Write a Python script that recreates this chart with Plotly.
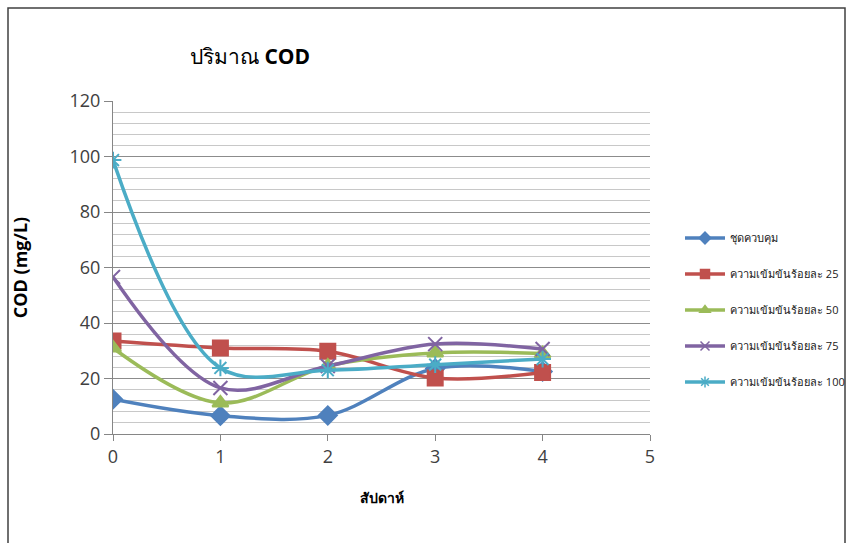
import plotly.graph_objects as go

weeks = [0, 1, 2, 3, 4]
series_names = ["ชุดควบคุม", "ความเข้มข้นร้อยละ 25", "ความเข้มข้นร้อยละ 50",
                "ความเข้มข้นร้อยละ 75", "ความเข้มข้นร้อยละ 100"]
control = [12.5, 6.6, 6.7, 23.6, 22.5]
c25 = [33.5, 31.0, 29.8, 20.2, 22.2]
c50 = [31.0, 11.2, 24.5, 29.2, 29.0]
c75 = [56.6, 16.6, 24.5, 32.4, 30.6]
c100 = [98.7, 23.8, 23.0, 25.0, 27.0]
y_ticks = [0, 20, 40, 60, 80, 100, 120]
x_ticks = [0, 1, 2, 3, 4, 5]

colors = ["#4F81BD", "#C0504D", "#9BBB59", "#8064A2", "#4BACC6"]
symbols = ["diamond", "square", "triangle-up", "x-thin-open", "asterisk-open"]
sizes = [14, 15, 14, 14, 14]
all_series = [control, c25, c50, c75, c100]

fig = go.Figure()
for i, (name, ys) in enumerate(zip(series_names, all_series)):
    fig.add_trace(go.Scatter(
        x=weeks, y=ys, name=name, mode="lines+markers",
        line=dict(color=colors[i], width=3.5, shape="spline", smoothing=1.0),
        marker=dict(symbol=symbols[i], size=sizes[i], color=colors[i],
                    line=dict(color=colors[i], width=2)),
        legendgroup=f"g{i}", showlegend=False,
    ))
    # legend entry with smaller marker, like the original
    fig.add_trace(go.Scatter(
        x=[None], y=[None], name=name, mode="lines+markers",
        line=dict(color=colors[i], width=3.5),
        marker=dict(symbol=symbols[i], size=9, color=colors[i],
                    line=dict(color=colors[i], width=1.5)),
        legendgroup=f"g{i}", showlegend=True, hoverinfo="skip",
    ))

W, H = 847, 543
L, R, T, B = 113, 197, 101, 109
pw, ph = W - L - R, H - T - B

def px_x(p):
    return (p - L) / pw

def px_y(p):
    return (H - B - p) / ph

fig.update_layout(
    width=W, height=H,
    margin=dict(l=L, r=R, t=T, b=B, autoexpand=False),
    paper_bgcolor="white", plot_bgcolor="white",
    font=dict(family="Open Sans, Noto Sans, sans-serif", color="#404040"),
    title=dict(text="ปริมาณ <b>COD</b>", x=250 / W, xanchor="center",
               y=1 - 57 / H, yanchor="middle",
               font=dict(size=21, color="#000000")),
    showlegend=True,
    legend=dict(x=px_x(680), xanchor="left", y=px_y(310), yanchor="middle",
                font=dict(size=11, color="#202020"), tracegroupgap=17,
                itemwidth=40, bgcolor="rgba(0,0,0,0)"),
    xaxis=dict(range=[0, 5], tickvals=x_ticks, showgrid=False, zeroline=False,
               showline=True, linecolor="#868686", linewidth=1,
               ticks="outside", ticklen=6, tickcolor="#868686",
               tickfont=dict(size=18, color="#404040"),
               title=dict(text="<b>สัปดาห์</b>", font=dict(size=14, color="#000000"),
                          standoff=26)),
    yaxis=dict(range=[0, 120], tickvals=y_ticks, showgrid=True,
               gridcolor="#8C8C8C", gridwidth=1, zeroline=False,
               showline=True, linecolor="#868686", linewidth=1,
               ticks="outside", ticklen=8, tickcolor="#868686",
               tickfont=dict(size=18, color="#404040"),
               minor=dict(dtick=4, showgrid=True, gridcolor="#C8C8C8", gridwidth=1),
               title=dict(text="<b>COD (mg/L)</b>", font=dict(size=18, color="#000000"),
                          standoff=37)),
    shapes=[dict(type="rect", xref="paper", yref="paper",
                 x0=px_x(8), x1=px_x(845), y0=px_y(560), y1=px_y(8),
                 line=dict(color="#404040", width=1.5), fillcolor="rgba(0,0,0,0)",
                 layer="below")],
)

fig.write_html("out.html")
